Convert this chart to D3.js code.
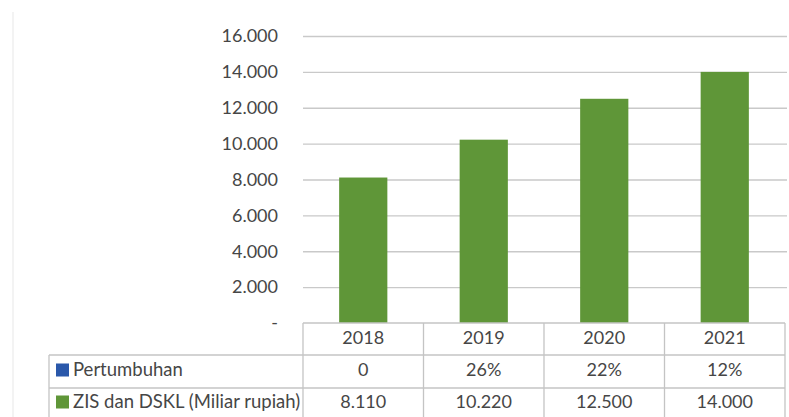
<!DOCTYPE html>
<html>
<head>
<meta charset="utf-8">
<script src="https://cdn.jsdelivr.net/npm/d3@7"></script>
<style>
  html, body { margin: 0; padding: 0; background: #fff; }
  svg { display: block; }
  text { font-family: Lato, "Open Sans", sans-serif; fill: #464646; }
</style>
</head>
<body>
<svg id="chart" width="789" height="417"></svg>
<script>
const years = ["2018", "2019", "2020", "2021"];
const zisValues = [8110, 10220, 12500, 14000];
const zisLabels = ["8.110", "10.220", "12.500", "14.000"];
const growthLabels = ["0", "26%", "22%", "12%"];
const yTicks = [0, 2000, 4000, 6000, 8000, 10000, 12000, 14000, 16000];
const seriesNames = ["Pertumbuhan", "ZIS dan DSKL (Miliar rupiah)"];
const seriesColors = ["#2a58aa", "#5f9638"];

const svg = d3.select("#chart");
const W = 789, H = 417;
const plotLeft = 303, plotRight = 785, plotTop = 36, plotBottom = 323;
const rowH = 32;
const tableLeft = 49;
const fs = 18;

// faint page edge
svg.append("line").attr("x1", 13).attr("x2", 13).attr("y1", 12).attr("y2", H)
  .attr("stroke", "#efefef").attr("stroke-width", 1.5);

const x = d3.scaleBand().domain(years).range([plotLeft, plotRight]).paddingInner(0.6).paddingOuter(0.3);
const xCell = d3.scaleBand().domain(years).range([plotLeft, plotRight]);
const y = d3.scaleLinear().domain([0, 16000]).range([plotBottom, plotTop]);

const fmt = v => v === 0 ? "-" : d3.format(",")(v).replace(/,/g, ".");

// gridlines + labels via axis
const yAxis = d3.axisLeft(y).tickValues(yTicks).tickSize(-(plotRight + 2 - plotLeft)).tickFormat(fmt).tickPadding(25);
const gy = svg.append("g").attr("transform", `translate(${plotLeft},0)`).call(yAxis);
gy.select(".domain").remove();
gy.selectAll(".tick line").attr("stroke", "#c9c9c9").attr("stroke-width", 1.3)
  .filter(d => d === 0).remove();
gy.selectAll(".tick text").attr("font-size", fs).attr("fill", "#464646")
  .style("font-family", "Lato, 'Open Sans', sans-serif");

// bars
svg.append("g").selectAll("rect").data(zisValues).join("rect")
  .attr("x", (d, i) => x(years[i]))
  .attr("y", d => y(d))
  .attr("width", x.bandwidth())
  .attr("height", d => y(0) - y(d))
  .attr("fill", seriesColors[1]);

// data table
const tg = svg.append("g");
const lineColor = "#c4c4c4";
tg.append("line").attr("x1", plotLeft).attr("x2", plotRight).attr("y1", plotBottom).attr("y2", plotBottom).attr("stroke", lineColor).attr("stroke-width", 1.3);
[1, 2, 3].forEach(r => {
  tg.append("line").attr("x1", tableLeft).attr("x2", plotRight)
    .attr("y1", plotBottom + rowH * r + (r > 1 ? 1 : 0)).attr("y2", plotBottom + rowH * r + (r > 1 ? 1 : 0))
    .attr("stroke", lineColor).attr("stroke-width", 1.3);
});
tg.append("line").attr("x1", tableLeft).attr("x2", tableLeft).attr("y1", plotBottom + rowH).attr("y2", H).attr("stroke", lineColor).attr("stroke-width", 1.3);
years.forEach(yr => {
  const xx = xCell(yr);
  tg.append("line").attr("x1", xx).attr("x2", xx).attr("y1", plotBottom).attr("y2", H).attr("stroke", lineColor).attr("stroke-width", 1.3);
});
tg.append("line").attr("x1", plotRight).attr("x2", plotRight).attr("y1", plotBottom).attr("y2", H).attr("stroke", lineColor).attr("stroke-width", 1.3);

const rows = [years, growthLabels, zisLabels];
const rowCenters = [338, 370, 402];
rows.forEach((vals, r) => {
  tg.append("g").selectAll("text").data(vals).join("text")
    .attr("x", (d, i) => xCell(years[i]) + xCell.bandwidth() / 2)
    .attr("y", rowCenters[r])
    .attr("dy", "0.35em")
    .attr("text-anchor", "middle")
    .attr("font-size", fs)
    .text(d => d);
});

// legend keys in table
seriesNames.forEach((name, i) => {
  const cy = rowCenters[i + 1];
  tg.append("rect").attr("x", 56).attr("y", cy - 6.5).attr("width", 13).attr("height", 13).attr("fill", seriesColors[i]);
  tg.append("text").attr("x", 73).attr("y", cy).attr("dy", "0.35em").attr("font-size", 18.5).text(name);
});
</script>
</body>
</html>
